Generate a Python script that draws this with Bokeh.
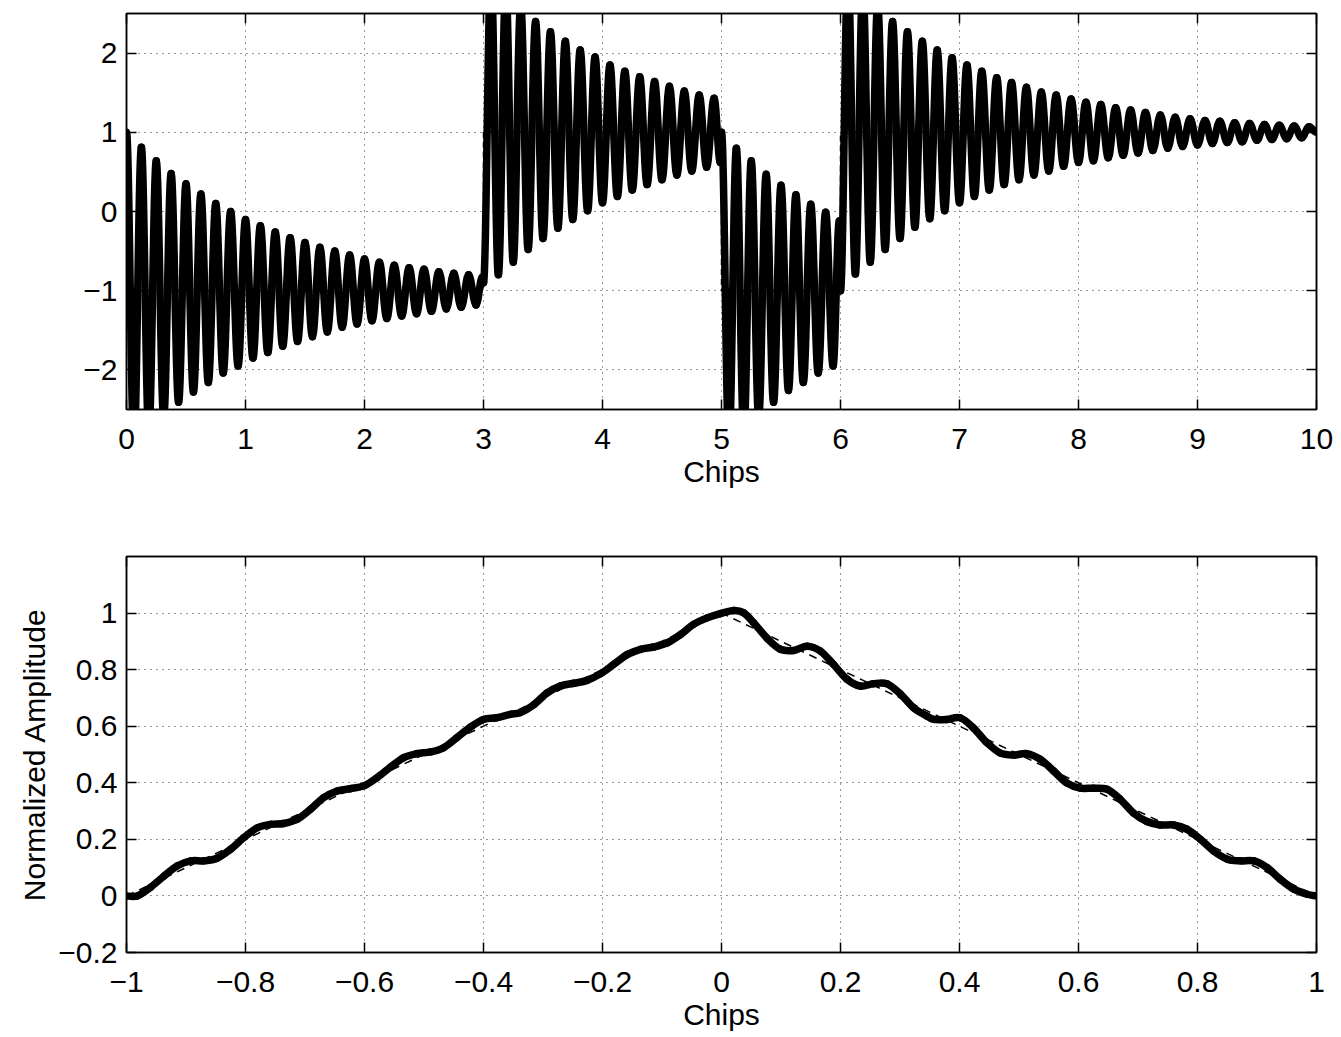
import numpy as np
from bokeh.plotting import figure
from bokeh.layouts import column
from bokeh.models import (FixedTicker, CustomJSTickFormatter, LinearAxis, Range1d)
from bokeh.embed import file_html
from bokeh.resources import INLINE

# ---------------- data: top panel (chip waveform, extrema) ----------------
seg1_t = [0.0, 0.0625, 0.125, 0.1875, 0.25, 0.3125, 0.375, 0.4375, 0.5, 0.5625, 0.625, 0.6875,
          0.75, 0.8125, 0.875, 0.9375, 1.0, 1.0625, 1.125, 1.1875, 1.25, 1.3125, 1.375, 1.4375,
          1.5, 1.5625, 1.625, 1.6875, 1.75, 1.8125, 1.875, 1.9375, 2.0, 2.0625, 2.125, 2.1875,
          2.25, 2.3125, 2.375, 2.4375, 2.5, 2.5625, 2.625, 2.6875, 2.75, 2.8125, 2.875, 2.9375, 2.99]
seg1_v = [1.0, -2.95, 0.81, -2.80, 0.64, -2.60, 0.48, -2.41, 0.35, -2.28, 0.22, -2.16,
          0.10, -2.04, 0.00, -1.95, -0.10, -1.85, -0.18, -1.78, -0.26, -1.70, -0.33, -1.64,
          -0.39, -1.58, -0.45, -1.52, -0.50, -1.46, -0.55, -1.42, -0.60, -1.38, -0.64, -1.35,
          -0.68, -1.32, -0.71, -1.29, -0.73, -1.26, -0.76, -1.23, -0.78, -1.21, -0.80, -1.18, -0.83]

seg2_t = [3.0, 3.0625, 3.125, 3.1875, 3.25, 3.3125, 3.375, 3.4375, 3.5, 3.5625, 3.625, 3.6875,
          3.75, 3.8125, 3.875, 3.9375, 4.0, 4.0625, 4.125, 4.1875, 4.25, 4.3125, 4.375, 4.4375,
          4.5, 4.5625, 4.625, 4.6875, 4.75, 4.8125, 4.875, 4.9375, 4.99]
seg2_v = [-0.90, 3.05, -0.80, 2.85, -0.64, 2.62, -0.48, 2.40, -0.34, 2.27, -0.21, 2.15,
          -0.10, 2.04, 0.01, 1.95, 0.11, 1.85, 0.19, 1.77, 0.27, 1.70, 0.34, 1.64,
          0.40, 1.58, 0.46, 1.52, 0.51, 1.47, 0.56, 1.43, 0.62]

seg3_t = [5.0, 5.0625, 5.125, 5.1875, 5.25, 5.3125, 5.375, 5.4375, 5.5, 5.5625, 5.625, 5.6875,
          5.75, 5.8125, 5.875, 5.9375, 5.99]
seg3_v = [1.0, -2.95, 0.80, -2.80, 0.64, -2.60, 0.47, -2.41, 0.33, -2.26, 0.21, -2.16,
          0.09, -2.04, -0.01, -1.95, -0.12]

seg4_t = [6.0, 6.0625, 6.125, 6.1875, 6.25, 6.3125, 6.375, 6.4375, 6.5, 6.5625, 6.625, 6.6875,
          6.75, 6.8125, 6.875, 6.9375, 7.0, 7.0625, 7.125, 7.1875, 7.25, 7.3125, 7.375, 7.4375,
          7.5, 7.5625, 7.625, 7.6875, 7.75, 7.8125, 7.875, 7.9375, 8.0, 8.0625, 8.125, 8.1875,
          8.25, 8.3125, 8.375, 8.4375, 8.5, 8.5625, 8.625, 8.6875, 8.75, 8.8125, 8.875, 8.9375,
          9.0, 9.0625, 9.125, 9.1875, 9.25, 9.3125, 9.375, 9.4375, 9.5, 9.5625, 9.625, 9.6875,
          9.75, 9.8125, 9.875, 9.9375, 10.0]
seg4_v = [-1.0, 3.05, -0.79, 2.85, -0.64, 2.62, -0.48, 2.40, -0.34, 2.27, -0.20, 2.15,
          -0.09, 2.04, 0.01, 1.94, 0.11, 1.85, 0.19, 1.77, 0.27, 1.69, 0.34, 1.63,
          0.40, 1.57, 0.46, 1.51, 0.51, 1.47, 0.57, 1.42, 0.62, 1.38, 0.64, 1.35,
          0.68, 1.31, 0.71, 1.28, 0.74, 1.25, 0.77, 1.22, 0.80, 1.19, 0.82, 1.17,
          0.84, 1.15, 0.86, 1.14, 0.87, 1.12, 0.88, 1.11, 0.90, 1.10, 0.91, 1.09,
          0.92, 1.08, 0.93, 1.07, 1.0]

ideal_t = [0, 3, 3, 5, 5, 6, 6, 10]
ideal_v = [-1, -1, 1, 1, -1, -1, 1, 1]

top_xticks = [0, 1, 2, 3, 4, 5, 6, 7, 8, 9, 10]
top_yticks = [-2, -1, 0, 1, 2]

# ---------------- data: bottom panel (correlation) ----------------
corr_x = [-1.0, -0.982, -0.960, -0.937, -0.915, -0.892, -0.870, -0.848, -0.825, -0.803, -0.780,
          -0.758, -0.736, -0.713, -0.691, -0.669, -0.646, -0.624, -0.601, -0.579, -0.556, -0.534,
          -0.512, -0.489, -0.467, -0.445, -0.422, -0.400, -0.378, -0.355, -0.338, -0.315, -0.293,
          -0.271, -0.248, -0.226, -0.203, -0.181, -0.158, -0.136, -0.114, -0.091, -0.069, -0.047,
          -0.024, -0.002, 0.021, 0.037, 0.054, 0.077, 0.099, 0.121, 0.144, 0.166, 0.188, 0.211,
          0.233, 0.255, 0.278, 0.301, 0.323, 0.345, 0.357, 0.379, 0.401, 0.423, 0.446, 0.468,
          0.491, 0.513, 0.536, 0.558, 0.580, 0.603, 0.625, 0.648, 0.670, 0.692, 0.715, 0.737,
          0.760, 0.782, 0.805, 0.827, 0.850, 0.872, 0.895, 0.917, 0.939, 0.962, 0.984, 1.0]
corr_y = [0.0, 0.0, 0.03, 0.07, 0.106, 0.124, 0.124, 0.133, 0.165, 0.206, 0.241,
          0.253, 0.256, 0.271, 0.306, 0.347, 0.371, 0.379, 0.389, 0.418, 0.456, 0.489,
          0.503, 0.509, 0.524, 0.559, 0.597, 0.624, 0.630, 0.642, 0.648, 0.677, 0.718,
          0.742, 0.752, 0.762, 0.786, 0.819, 0.854, 0.872, 0.880, 0.895, 0.924, 0.960,
          0.983, 0.998, 1.009, 1.001, 0.966, 0.910, 0.872, 0.868, 0.883, 0.866, 0.819, 0.766,
          0.742, 0.750, 0.750, 0.713, 0.665, 0.636, 0.624, 0.624, 0.630, 0.595, 0.542, 0.506,
          0.498, 0.503, 0.483, 0.442, 0.400, 0.381, 0.381, 0.377, 0.342, 0.294, 0.263, 0.251,
          0.251, 0.236, 0.200, 0.159, 0.130, 0.124, 0.124, 0.100, 0.059, 0.024, 0.006, 0.0]

tri_x = [-1, 0, 1]
tri_y = [0, 1, 0]

bot_xticks = [-1, -0.8, -0.6, -0.4, -0.2, 0, 0.2, 0.4, 0.6, 0.8, 1]
bot_yticks = [-0.2, 0, 0.2, 0.4, 0.6, 0.8, 1]

# ---------------- styling helpers ----------------
FONT = "Liberation Sans"
FS = "30px"
LW = 7.5

fmt_code = """
let s = (Math.round(tick*1000)/1000).toString();
return s.replace('-', '\\u2212');
"""


def style_axis(ax, labels=True):
    ax.major_tick_in = 10
    ax.major_tick_out = 0
    ax.minor_tick_line_color = None
    ax.axis_line_color = "black"
    ax.axis_line_width = 1.5
    ax.major_tick_line_color = "black"
    ax.major_tick_line_width = 1.5
    ax.major_label_text_font = FONT
    ax.major_label_text_color = "black"
    ax.axis_label_text_font = FONT
    ax.axis_label_text_font_style = "normal"
    ax.axis_label_text_font_size = FS
    ax.axis_label_text_color = "black"
    if labels:
        ax.major_label_text_font_size = FS
        ax.formatter = CustomJSTickFormatter(code=fmt_code)
    else:
        ax.major_label_text_font_size = "1px"
        ax.major_label_standoff = 0
        ax.formatter = CustomJSTickFormatter(code="return '';")


def make_fig(xr, yr, xt, yt, height, btop, bbot, xlabel, ylabel=None):
    p = figure(width=1341, height=height, x_range=Range1d(*xr), y_range=Range1d(*yr),
               output_backend="svg", toolbar_location=None,
               min_border_left=126, min_border_right=25,
               min_border_top=btop, min_border_bottom=bbot)
    p.background_fill_color = "white"
    p.border_fill_color = "white"
    p.outline_line_color = "black"
    p.outline_line_width = 1.5
    xtk = FixedTicker(ticks=xt)
    ytk = FixedTicker(ticks=yt)
    p.xaxis[0].ticker = xtk
    p.yaxis[0].ticker = ytk
    p.xgrid[0].ticker = xtk
    p.ygrid[0].ticker = ytk
    for g in (p.xgrid[0], p.ygrid[0]):
        g.grid_line_color = "#333333"
        g.grid_line_dash = "1 5"
        g.grid_line_width = 1
    style_axis(p.xaxis[0])
    style_axis(p.yaxis[0])
    p.xaxis[0].major_label_standoff = 19
    p.yaxis[0].major_label_standoff = 9
    p.xaxis[0].axis_label = xlabel
    p.xaxis[0].axis_label_standoff = 3
    if ylabel:
        p.yaxis[0].axis_label = ylabel
        p.yaxis[0].axis_label_standoff = 4
    top_ax = LinearAxis(ticker=xtk)
    right_ax = LinearAxis(ticker=ytk)
    style_axis(top_ax, labels=False)
    style_axis(right_ax, labels=False)
    p.add_layout(top_ax, "above")
    p.add_layout(right_ax, "right")
    return p


def wave_segments(xs, ys, k=0.365):
    # smooth half-wave strokes between successive extrema (horizontal tangents at extrema)
    x = np.asarray(xs, float)
    y = np.asarray(ys, float)
    dx = np.diff(x)
    return dict(x0=x[:-1], y0=y[:-1], x1=x[1:], y1=y[1:],
                cx0=x[:-1] + k * dx, cy0=y[:-1], cx1=x[1:] - k * dx, cy1=y[1:])


def spline_segments(xs, ys):
    # Catmull-Rom stroke through the read points, expressed as cubic Bezier pieces
    x = np.asarray(xs, float)
    y = np.asarray(ys, float)
    xp = np.concatenate([[x[0]], x, [x[-1]]])
    yp = np.concatenate([[y[0]], y, [y[-1]]])
    n = len(x) - 1
    i = np.arange(n) + 1
    return dict(x0=xp[i], y0=yp[i], x1=xp[i + 1], y1=yp[i + 1],
                cx0=xp[i] + (xp[i + 1] - xp[i - 1]) / 6, cy0=yp[i] + (yp[i + 1] - yp[i - 1]) / 6,
                cx1=xp[i + 1] - (xp[i + 2] - xp[i]) / 6, cy1=yp[i + 1] - (yp[i + 2] - yp[i]) / 6)


# ---------------- top panel ----------------
p1 = make_fig((0, 10), (-2.5, 2.5), top_xticks, top_yticks, 540, 13, 131, "Chips")
p1.line(ideal_t, ideal_v, line_color="black", line_width=1.5, line_dash="6 4")
top_t = seg1_t + seg2_t + seg3_t + seg4_t
top_v = seg1_v + seg2_v + seg3_v + seg4_v
p1.bezier(line_color="black", line_width=LW, line_cap="round",
          **wave_segments(top_t, top_v))

# ---------------- bottom panel ----------------
p2 = make_fig((-1, 1), (-0.2, 1.2), bot_xticks, bot_yticks, 497, 16, 85, "Chips",
              ylabel="Normalized Amplitude")
p2.line(tri_x, tri_y, line_color="black", line_width=1.5, line_dash="8 6")
p2.bezier(line_color="black", line_width=LW, line_cap="round",
          **spline_segments(corr_x, corr_y))

layout = column(p1, p2, spacing=0)
open("out.html", "w").write(file_html(layout, INLINE))
